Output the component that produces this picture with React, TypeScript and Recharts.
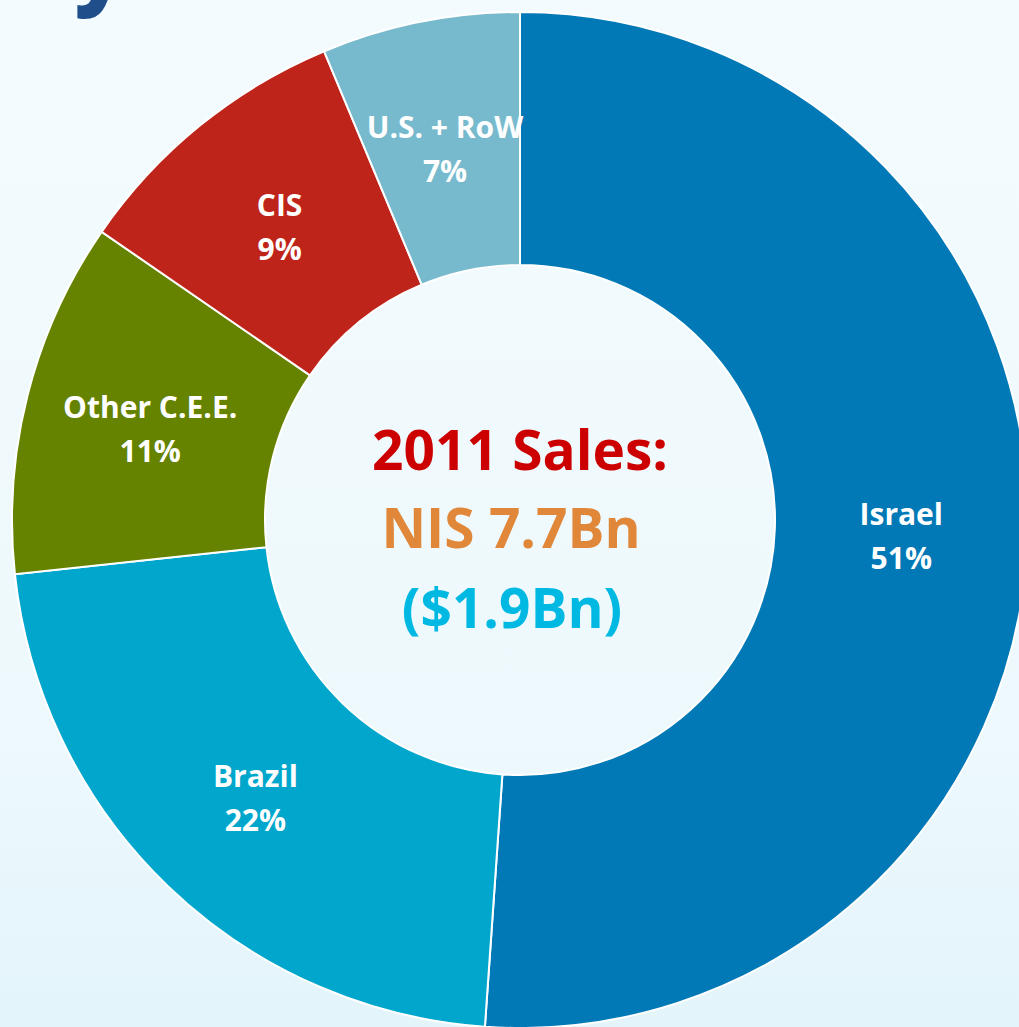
import { Cell, Label, Pie, PieChart } from "recharts";

const REGIONS = ["Israel", "Brazil", "Other C.E.E.", "CIS", "U.S. + RoW"];
const SHARES = [51.1, 22.2, 11.3, 9.1, 6.3];
const SHARE_LABELS = ["51%", "22%", "11%", "9%", "7%"];
const COLORS = ["#0079b6", "#00a6cc", "#668300", "#be2419", "#78bacd"];

const CENTER_LINES = ["2011 Sales:", "NIS 7.7Bn", "($1.9Bn)"];
const CENTER_COLORS = ["#cc0000", "#e0873a", "#00b9e3"];

const data = REGIONS.map((region, i) => ({ region, share: SHARES[i], text: SHARE_LABELS[i] }));

const CX = 520;
const CY = 520;
const RADIAN = Math.PI / 180;
const FONT = "'Open Sans', 'Noto Sans', sans-serif";

function SliceLabel(props: any) {
  const { cx, cy, midAngle, innerRadius, outerRadius, index } = props;
  const r = (innerRadius + outerRadius) / 2;
  const x = cx + r * Math.cos(-midAngle * RADIAN);
  const y = cy + r * Math.sin(-midAngle * RADIAN);
  const d = data[index];
  return (
    <text x={x} y={y} fill="#ffffff" textAnchor="middle" fontFamily={FONT} fontWeight={700} fontSize={30}>
      <tspan x={x} dy={-8}>{d.region}</tspan>
      <tspan x={x} dy={44}>{d.text}</tspan>
    </text>
  );
}

function CenterLabel() {
  const dy = [-50, 28, 108];
  const dx = [0, -9, -8];
  return (
    <g fontFamily={FONT} fontWeight={700} textAnchor="middle" fontSize={55}>
      {CENTER_LINES.map((line, i) => (
        <text key={line} x={CX + dx[i]} y={CY + dy[i]} fill={CENTER_COLORS[i]}>
          {line}
        </text>
      ))}
    </g>
  );
}

export default function App() {
  return (
    <div
      style={{
        position: "absolute",
        left: 0,
        top: 0,
        width: 1019,
        height: 1027,
        overflow: "hidden",
        background: "linear-gradient(180deg, #f3fbfe 0%, #eef9fd 70%, #e3f4fb 100%)",
      }}
    >
      <div
        style={{
          position: "absolute",
          left: 4,
          top: -80,
          fontFamily: FONT,
          fontWeight: 800,
          fontSize: 88,
          color: "#1f4e8a",
          lineHeight: 1,
        }}
      >
        ity
      </div>
      <PieChart width={1019} height={1027} margin={{ top: 0, right: 0, bottom: 0, left: 0 }}>
        <Pie
          data={data}
          dataKey="share"
          nameKey="region"
          cx={CX}
          cy={CY}
          innerRadius={255}
          outerRadius={508}
          startAngle={90}
          endAngle={-270}
          stroke="#ffffff"
          strokeWidth={2}
          label={SliceLabel}
          labelLine={false}
          isAnimationActive={false}
        >
          {data.map((d, i) => (
            <Cell key={d.region} fill={COLORS[i]} />
          ))}
          <Label position="center" content={CenterLabel} />
        </Pie>
      </PieChart>
    </div>
  );
}
